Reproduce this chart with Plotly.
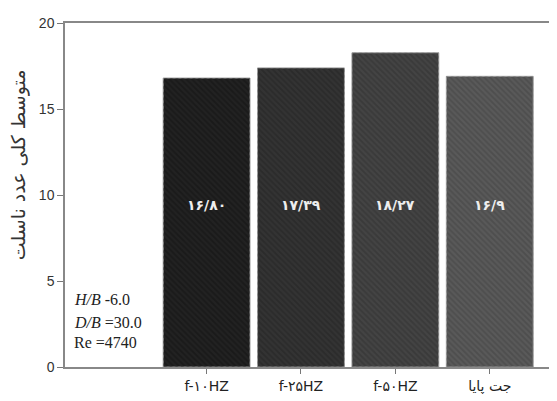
import plotly.graph_objects as go

categories = ["f-۱۰HZ", "f-۲۵HZ", "f-۵۰HZ", "جت پایا"]
values = [16.80, 17.39, 18.27, 16.9]
value_labels = ["۱۶/۸۰", "۱۷/۳۹", "۱۸/۲۷", "۱۶/۹"]
y_ticks = [0, 5, 10, 15, 20]
y_title = "متوسط کلی عدد ناسلت"
info_lines = ["<i>H/B</i> -6.0", "<i>D/B</i> =30.0", "Re =4740"]

bg_colors = ["#1a1a1a", "#2b2b2b", "#3a3a3a", "#4e4e4e"]
fg_colors = ["#2a2a2a", "#3c3c3c", "#4e4e4e", "#666666"]

# page body has an 8px margin; compensate so the plot lands where the reference has it
OFF = 8
W, H = 557 - OFF, 401 - OFF
pl, pr, pt, pb = 57, 2, 15, 34

xs = list(range(len(categories)))
fig = go.Figure()
# solid base bars
fig.add_trace(go.Bar(
    x=xs, y=values, width=0.92,
    marker=dict(color=bg_colors, line=dict(color="#a0a0a0", width=1)),
    hoverinfo="skip",
))
# hatch layer, one trace per bar
for i in xs:
    fig.add_trace(go.Bar(
        x=[xs[i]], y=[values[i]], width=0.92,
        marker=dict(
            color="rgba(0,0,0,0)",
            line=dict(width=0),
            pattern=dict(shape="\\", fgcolor=fg_colors[i], bgcolor="rgba(0,0,0,0)",
                         size=4, solidity=0.5),
        ),
        hoverinfo="skip",
    ))

for i, lab in enumerate(value_labels):
    fig.add_annotation(x=i, y=9.4, xref="x", yref="y", text="<b>" + lab + "</b>", showarrow=False,
                       font=dict(family="DejaVu Sans", size=14, color="#eeeeee"))

for j, line in enumerate(info_lines):
    fig.add_annotation(x=0.014, y=[0.195, 0.128, 0.07][j], xref="paper", yref="paper",
                       xanchor="left", yanchor="middle", text=line, showarrow=False,
                       font=dict(family="Liberation Serif", size=16, color="#222"))

fig.add_annotation(x=(18 - OFF - pl) / (W - pl - pr), y=1 - (165 - OFF - pt) / (H - pt - pb),
                   xref="paper", yref="paper", text=y_title,
                   showarrow=False, textangle=-90, xanchor="center", yanchor="middle",
                   font=dict(family="DejaVu Sans", size=19, color="#333"))

fig.update_layout(
    width=W, height=H,
    margin=dict(l=pl, r=pr, t=pt, b=pb),
    plot_bgcolor="white", paper_bgcolor="white",
    showlegend=False, barmode="overlay",
    xaxis=dict(
        range=[-1.5, 3.67],
        tickmode="array", tickvals=xs, ticktext=categories,
        ticks="outside", ticklen=5, tickcolor="#777",
        showline=True, linecolor="#888", linewidth=1.5, mirror=True,
        showgrid=False, zeroline=False,
        tickfont=dict(family="DejaVu Sans", size=14, color="#222"),
    ),
    yaxis=dict(
        range=[0, 20],
        tickvals=y_ticks,
        ticks="outside", ticklen=6, tickcolor="#777",
        showline=True, linecolor="#888", linewidth=1.5, mirror=True,
        showgrid=False, zeroline=False,
        tickfont=dict(family="Liberation Sans", size=14, color="#333"),
    ),
)

fig.write_html("out.html")
